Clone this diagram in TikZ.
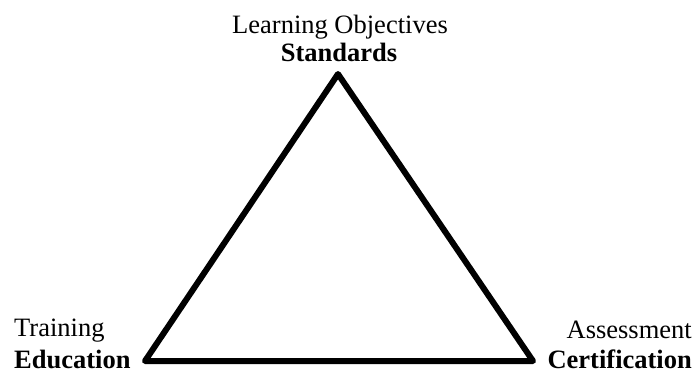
\documentclass[tikz,border=0pt]{standalone}
\usepackage{fontspec}
\setmainfont{Liberation Serif}
\begin{document}
\begin{tikzpicture}[x=1pt,y=-1pt,
  lbl/.style={inner sep=0pt,font=\fontsize{26.5}{30}\selectfont},
  blbl/.style={lbl,font=\fontsize{26.5}{30}\selectfont\bfseries},
  edge/.style={line width=6pt,line join=round,line cap=round}]
\useasboundingbox (0,0) rectangle (696,375);
\coordinate (top) at (338,74);
\coordinate (bl) at (145,361);
\coordinate (br) at (533,361);
\draw[edge] (top) -- (br) -- (bl) -- cycle;
\node[lbl,anchor=base] (lo) at (340,33) {Learning Objectives};
\node[blbl,anchor=base] (st) at (339,61) {Standards};
\node[lbl,anchor=base west] (tr) at (14,336) {Training};
\node[blbl,anchor=base west] (ed) at (14,368) {Education};
\node[lbl,anchor=base east] (as) at (692,338) {Assessment};
\node[blbl,anchor=base east] (ce) at (692,368) {Certification};
\end{tikzpicture}
\end{document}
